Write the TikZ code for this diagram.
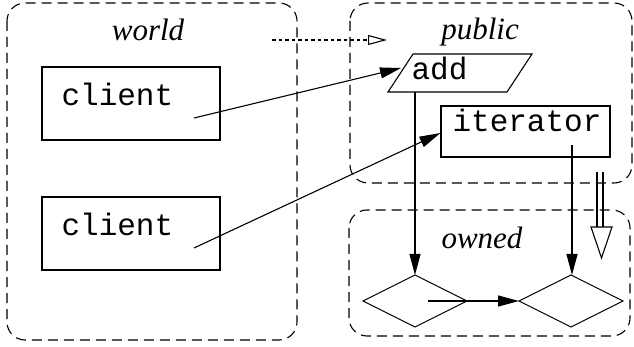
\documentclass[tikz,border=0pt]{standalone}
\usepackage{fontspec}
\setmainfont{Liberation Serif}
\setmonofont{Liberation Mono}
\usetikzlibrary{shapes.geometric,arrows.meta}
\begin{document}
\begin{tikzpicture}[x=1pt,y=-1pt,
  line width=1.1pt,
  region/.style={draw, dash pattern=on 10pt off 6pt, rounded corners=18pt},
  regionlabel/.style={font=\fontsize{31}{31}\selectfont\itshape, anchor=base, inner sep=0pt},
  codetext/.style={font=\fontsize{31}{31}\selectfont\ttfamily, anchor=base west, inner sep=0pt},
  plainbox/.style={draw, inner sep=0pt},
  state/.style={draw, diamond, aspect=2, minimum width=104pt, minimum height=52pt, inner sep=0pt, outer sep=0pt},
  flow/.style={-{Triangle[length=21pt,width=11pt]}},
  refine/.style={dash pattern=on 3.5pt off 3pt, line width=1.8pt, -{Triangle[open,length=19pt,width=10pt,line width=1.1pt]}}
]
\useasboundingbox (0,0) rectangle (634,347);

% dashed regions
\draw[region] (7,3) rectangle (297,340);
\draw[region] (350,3) rectangle (632,183);
\draw[region] (349,210) rectangle (630,336);

\node[regionlabel] (lworld) at (148,41) {world};
\node[regionlabel] (lpublic) at (480,40) {public};
\node[regionlabel] (lowned) at (482,248) {owned};

% clients
\node[plainbox, minimum width=178pt, minimum height=73pt] (c1) at (131,103.5) {};
\node[codetext] (t1) at (61,106) {client};
\node[plainbox, minimum width=178pt, minimum height=73pt] (c2) at (131,233.5) {};
\node[codetext] (t2) at (61,236) {client};

% add operation
\draw (388,92) coordinate (addbl) -- (413,54) -- (532,54) -- (507,92) -- cycle;
\node[codetext] (tadd) at (411,80) {add};
\coordinate (addin) at (401,68);
\coordinate (addout) at (415,92);

% iterator
\node[plainbox, minimum width=169pt, minimum height=51pt] (it) at (525.5,131.5) {};
\node[codetext] (tit) at (452,132) {iterator};
\coordinate (itout) at (572,145);

% owned states
\node[state] (s1) at (415,301) {};
\node[state] (s2) at (571,301) {};
\coordinate (s1in) at (428,301);

% client calls
\coordinate (c1out) at (194,118);
\coordinate (c2out) at (194,248);
\draw[flow] (c1out) -- (addin);
\draw[flow] (c2out) -- (it.west |- 0,133);

% into owned
\draw[flow] (addout) -- (s1.north);
\draw[flow] (itout) -- (itout |- s2.north);
\draw[flow] (s1in) -- (s2.west);

% refinement arrow
\coordinate (rfrom) at (272,40);
\coordinate (rto) at (387,40);
\draw[refine] (rfrom) -- (rto);

% hollow double arrow
\coordinate (dtip) at (601.5,258);
\draw (597,172) -- (597,227);
\draw (603,172) -- (603,227);
\draw[line join=miter] (591,227) -- (612,227) -- (dtip) -- cycle;
\end{tikzpicture}
\end{document}
